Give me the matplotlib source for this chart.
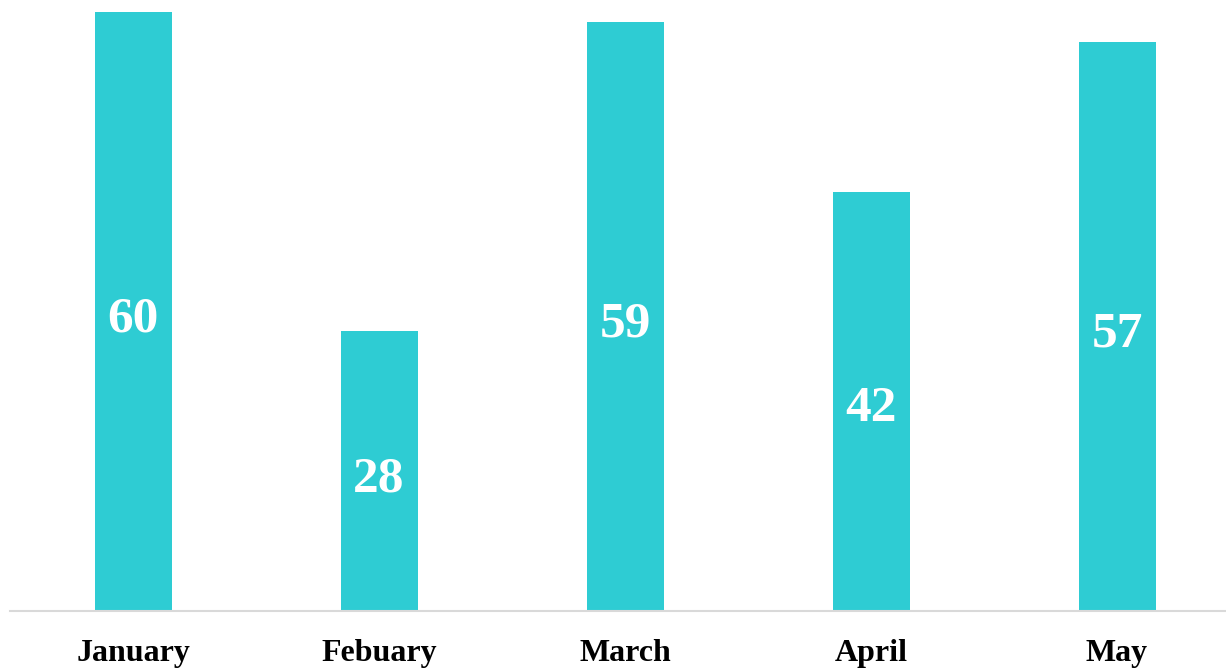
import matplotlib.pyplot as plt

months = ["January", "Febuary", "March", "April", "May"]
values = [60, 28, 59, 42, 57]

fig = plt.figure(figsize=(12.26, 6.68), dpi=100)
ax = fig.add_axes([10/1226, 57/668, 1 - 10/1226, (611 - 12)/668])

xs = range(len(months))
bars = ax.bar(xs, values, width=0.313, color="#2ECCD3")

# value labels in the middle of each bar
for b, v in zip(bars, values):
    ax.text(b.get_x() + b.get_width()/2, v/2 - 0.8, str(v), ha="center", va="center",
            color="white", fontsize=37, fontweight="bold", family="Liberation Serif")

ax.set_xlim(-0.5, 4.443)
ax.set_ylim(0, 60)
ax.set_xticks(list(xs))
ax.set_xticklabels(months, fontsize=23, fontweight="bold", family="Liberation Serif")
ax.tick_params(axis="x", length=0, pad=20)
ax.set_yticks([])
for s in ["top", "right", "left"]:
    ax.spines[s].set_visible(False)
ax.spines["bottom"].set_color("#d9d9d9")
ax.spines["bottom"].set_linewidth(1.5)

fig.savefig("out.png", dpi=100)
